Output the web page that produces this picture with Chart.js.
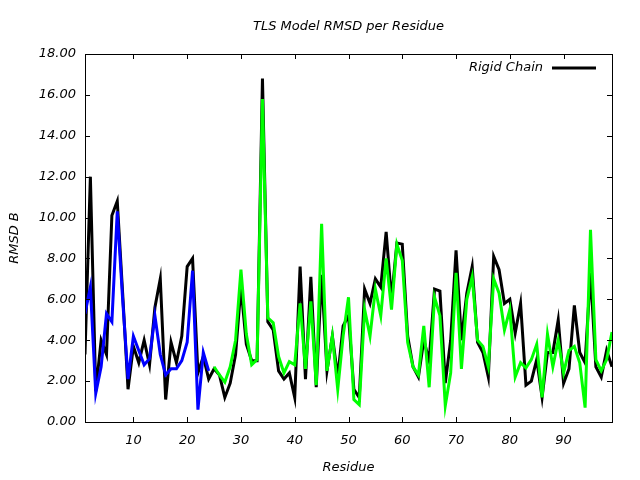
<!DOCTYPE html>
<html>
<head>
<meta charset="utf-8">
<script src="https://cdn.jsdelivr.net/npm/chart.js@4.4.1/dist/chart.umd.min.js"></script>
<style>
  html, body { margin: 0; padding: 0; background: #fff; }
  canvas { display: block; }
</style>
</head>
<body>
<canvas id="c" width="640" height="480"></canvas>
<script>
// ---- data ----
const titleText = "TLS Model RMSD per Residue";
const xTitle = "Residue";
const yTitle = "RMSD B";
const legendLabel = "Rigid Chain";

const rigidChain = [
  3.3, 12.0, 1.5, 4.0, 3.3, 10.1, 10.8, 6.3, 1.6, 3.7,
  2.9, 4.0, 2.8, 5.6, 7.0, 1.1, 3.9, 2.9, 4.2, 7.6,
  8.0, 2.4, 3.2, 2.1, 2.6, 2.3, 1.2, 1.9, 3.3, 6.6,
  3.8, 3.0, 3.0, 16.8, 4.9, 4.5, 2.5, 2.1, 2.4, 1.2,
  7.6, 2.1, 7.1, 1.7, 7.2, 2.5, 4.2, 2.2, 4.7, 5.2,
  1.6, 1.2, 6.5, 5.8, 7.0, 6.6, 9.3, 6.0, 8.75, 8.7,
  4.2, 2.7, 2.2, 4.0, 3.0, 6.5, 6.4, 1.9, 4.0, 8.4,
  4.0, 6.3, 7.6, 3.9, 3.4, 2.2, 8.1, 7.45, 5.8, 6.0,
  4.35, 5.8, 1.8, 2.0, 3.05, 1.2, 3.4, 3.4, 5.0, 1.9,
  2.6, 5.7, 3.4, 2.9, 7.3, 2.7, 2.2, 3.5, 2.7
];

const segment1Start = 1;
const segment1 = [
  5.3, 6.6, 1.4, 2.7, 5.3, 4.9, 10.3, 6.0, 2.1, 4.2,
  3.5, 2.8, 3.1, 5.2, 3.3, 2.3, 2.6, 2.6, 3.0, 3.9,
  7.4, 0.6, 3.4, 2.5
];

const segment2Start = 25;
const segment2 = [
  2.7, 2.3, 1.95, 2.7, 4.0, 7.45,
  4.3, 2.8, 3.05, 15.8, 5.1, 4.85, 3.2, 2.4, 2.95, 2.8,
  5.8, 2.6, 5.9, 1.8, 9.7, 2.5, 4.2, 1.6, 4.2, 6.1,
  1.1, 0.85, 5.5, 4.2, 6.5, 5.2, 8.0, 5.5, 8.7, 7.9,
  3.9, 2.7, 2.3, 4.7, 1.7, 6.1, 5.2, 0.8, 2.4, 7.3,
  2.6, 6.0, 7.1, 4.0, 3.7, 2.7, 7.0, 6.3, 4.5, 5.5,
  2.2, 2.9, 2.65, 3.05, 3.8, 1.2, 4.3, 2.7, 4.0, 2.4,
  3.5, 3.7, 2.9, 0.7, 9.4, 3.05, 2.5, 3.05, 4.4
];

const xTicks = [10, 20, 30, 40, 50, 60, 70, 80, 90];
const yTicks = [0, 2, 4, 6, 8, 10, 12, 14, 16, 18];

// ---- build ----
const FAMILY = '"DejaVu Sans", sans-serif';
const FS = 13;
const toPts = (start, arr) => arr.map((v, i) => ({ x: start + i, y: v }));

const decor = {
  id: 'decor',
  afterDraw(chart) {
    const { ctx, chartArea: a, scales: { x, y } } = chart;
    ctx.save();
    ctx.strokeStyle = '#000';
    ctx.lineWidth = 1;
    ctx.strokeRect(Math.round(a.left) + 0.5, Math.round(a.top) + 0.5,
                   Math.round(a.right - a.left), Math.round(a.bottom - a.top));
    ctx.beginPath();
    const tl = 5;
    x.ticks.forEach(t => {
      const px = Math.round(x.getPixelForValue(t.value)) + 0.5;
      ctx.moveTo(px, a.bottom); ctx.lineTo(px, a.bottom - tl);
      ctx.moveTo(px, a.top); ctx.lineTo(px, a.top + tl);
    });
    y.ticks.forEach(t => {
      const py = Math.round(y.getPixelForValue(t.value)) + 0.5;
      ctx.moveTo(a.left, py); ctx.lineTo(a.left + tl, py);
      ctx.moveTo(a.right, py); ctx.lineTo(a.right - tl, py);
    });
    ctx.stroke();

    ctx.fillStyle = '#000';
    ctx.font = 'italic ' + FS + 'px ' + FAMILY;
    ctx.textBaseline = 'middle';
    ctx.textAlign = 'center';
    ctx.fillText(titleText, (a.left + a.right) / 2, 27);

    // legend
    const ly = a.top + 14;
    ctx.textAlign = 'right';
    ctx.fillText(legendLabel, a.right - 69, ly);
    ctx.lineWidth = 3;
    ctx.beginPath();
    ctx.moveTo(a.right - 60, ly);
    ctx.lineTo(a.right - 16, ly);
    ctx.stroke();
    ctx.restore();
  }
};

const tickFont = { family: FAMILY, size: FS, style: 'italic' };

new Chart(document.getElementById('c'), {
  type: 'line',
  data: {
    datasets: [
      { label: legendLabel, data: toPts(1, rigidChain), borderColor: '#000000', order: 3 },
      { label: 'segment 1', data: toPts(segment1Start, segment1), borderColor: '#0000ff', order: 2 },
      { label: 'segment 2', data: toPts(segment2Start, segment2), borderColor: '#00ff00', order: 1 }
    ]
  },
  options: {
    responsive: false,
    animation: false,
    devicePixelRatio: 1,
    elements: {
      line: { borderWidth: 3, tension: 0, fill: false, borderJoinStyle: 'miter', borderCapStyle: 'butt' },
      point: { radius: 0, hoverRadius: 0 }
    },
    layout: { padding: { top: 54, right: 28, bottom: 0, left: 0 } },
    plugins: { legend: { display: false }, title: { display: false }, tooltip: { enabled: false } },
    scales: {
      x: {
        type: 'linear',
        min: 1, max: 99,
        afterFit: s => { s.height = 58; },
        afterBuildTicks: s => { s.ticks = xTicks.map(v => ({ value: v })); },
        grid: { display: false, drawTicks: false },
        border: { display: false },
        ticks: { font: tickFont, color: '#000', padding: 11, maxRotation: 0, autoSkip: false,
                 callback: v => String(v) },
        title: { display: true, text: xTitle, color: '#000',
                 font: { family: FAMILY, size: FS, style: 'italic' }, padding: { top: 0, bottom: 5 } }
      },
      y: {
        type: 'linear',
        min: 0, max: 18,
        afterFit: s => { s.width = 85; },
        afterBuildTicks: s => { s.ticks = yTicks.map(v => ({ value: v })); },
        grid: { display: false, drawTicks: false },
        border: { display: false },
        ticks: { font: tickFont, color: '#000', padding: 9, autoSkip: false,
                 callback: v => Number(v).toFixed(2) },
        title: { display: true, text: yTitle, color: '#000',
                 font: { family: FAMILY, size: FS, style: 'italic' }, padding: { top: 7, bottom: 0 } }
      }
    }
  },
  plugins: [decor]
});
</script>
</body>
</html>
